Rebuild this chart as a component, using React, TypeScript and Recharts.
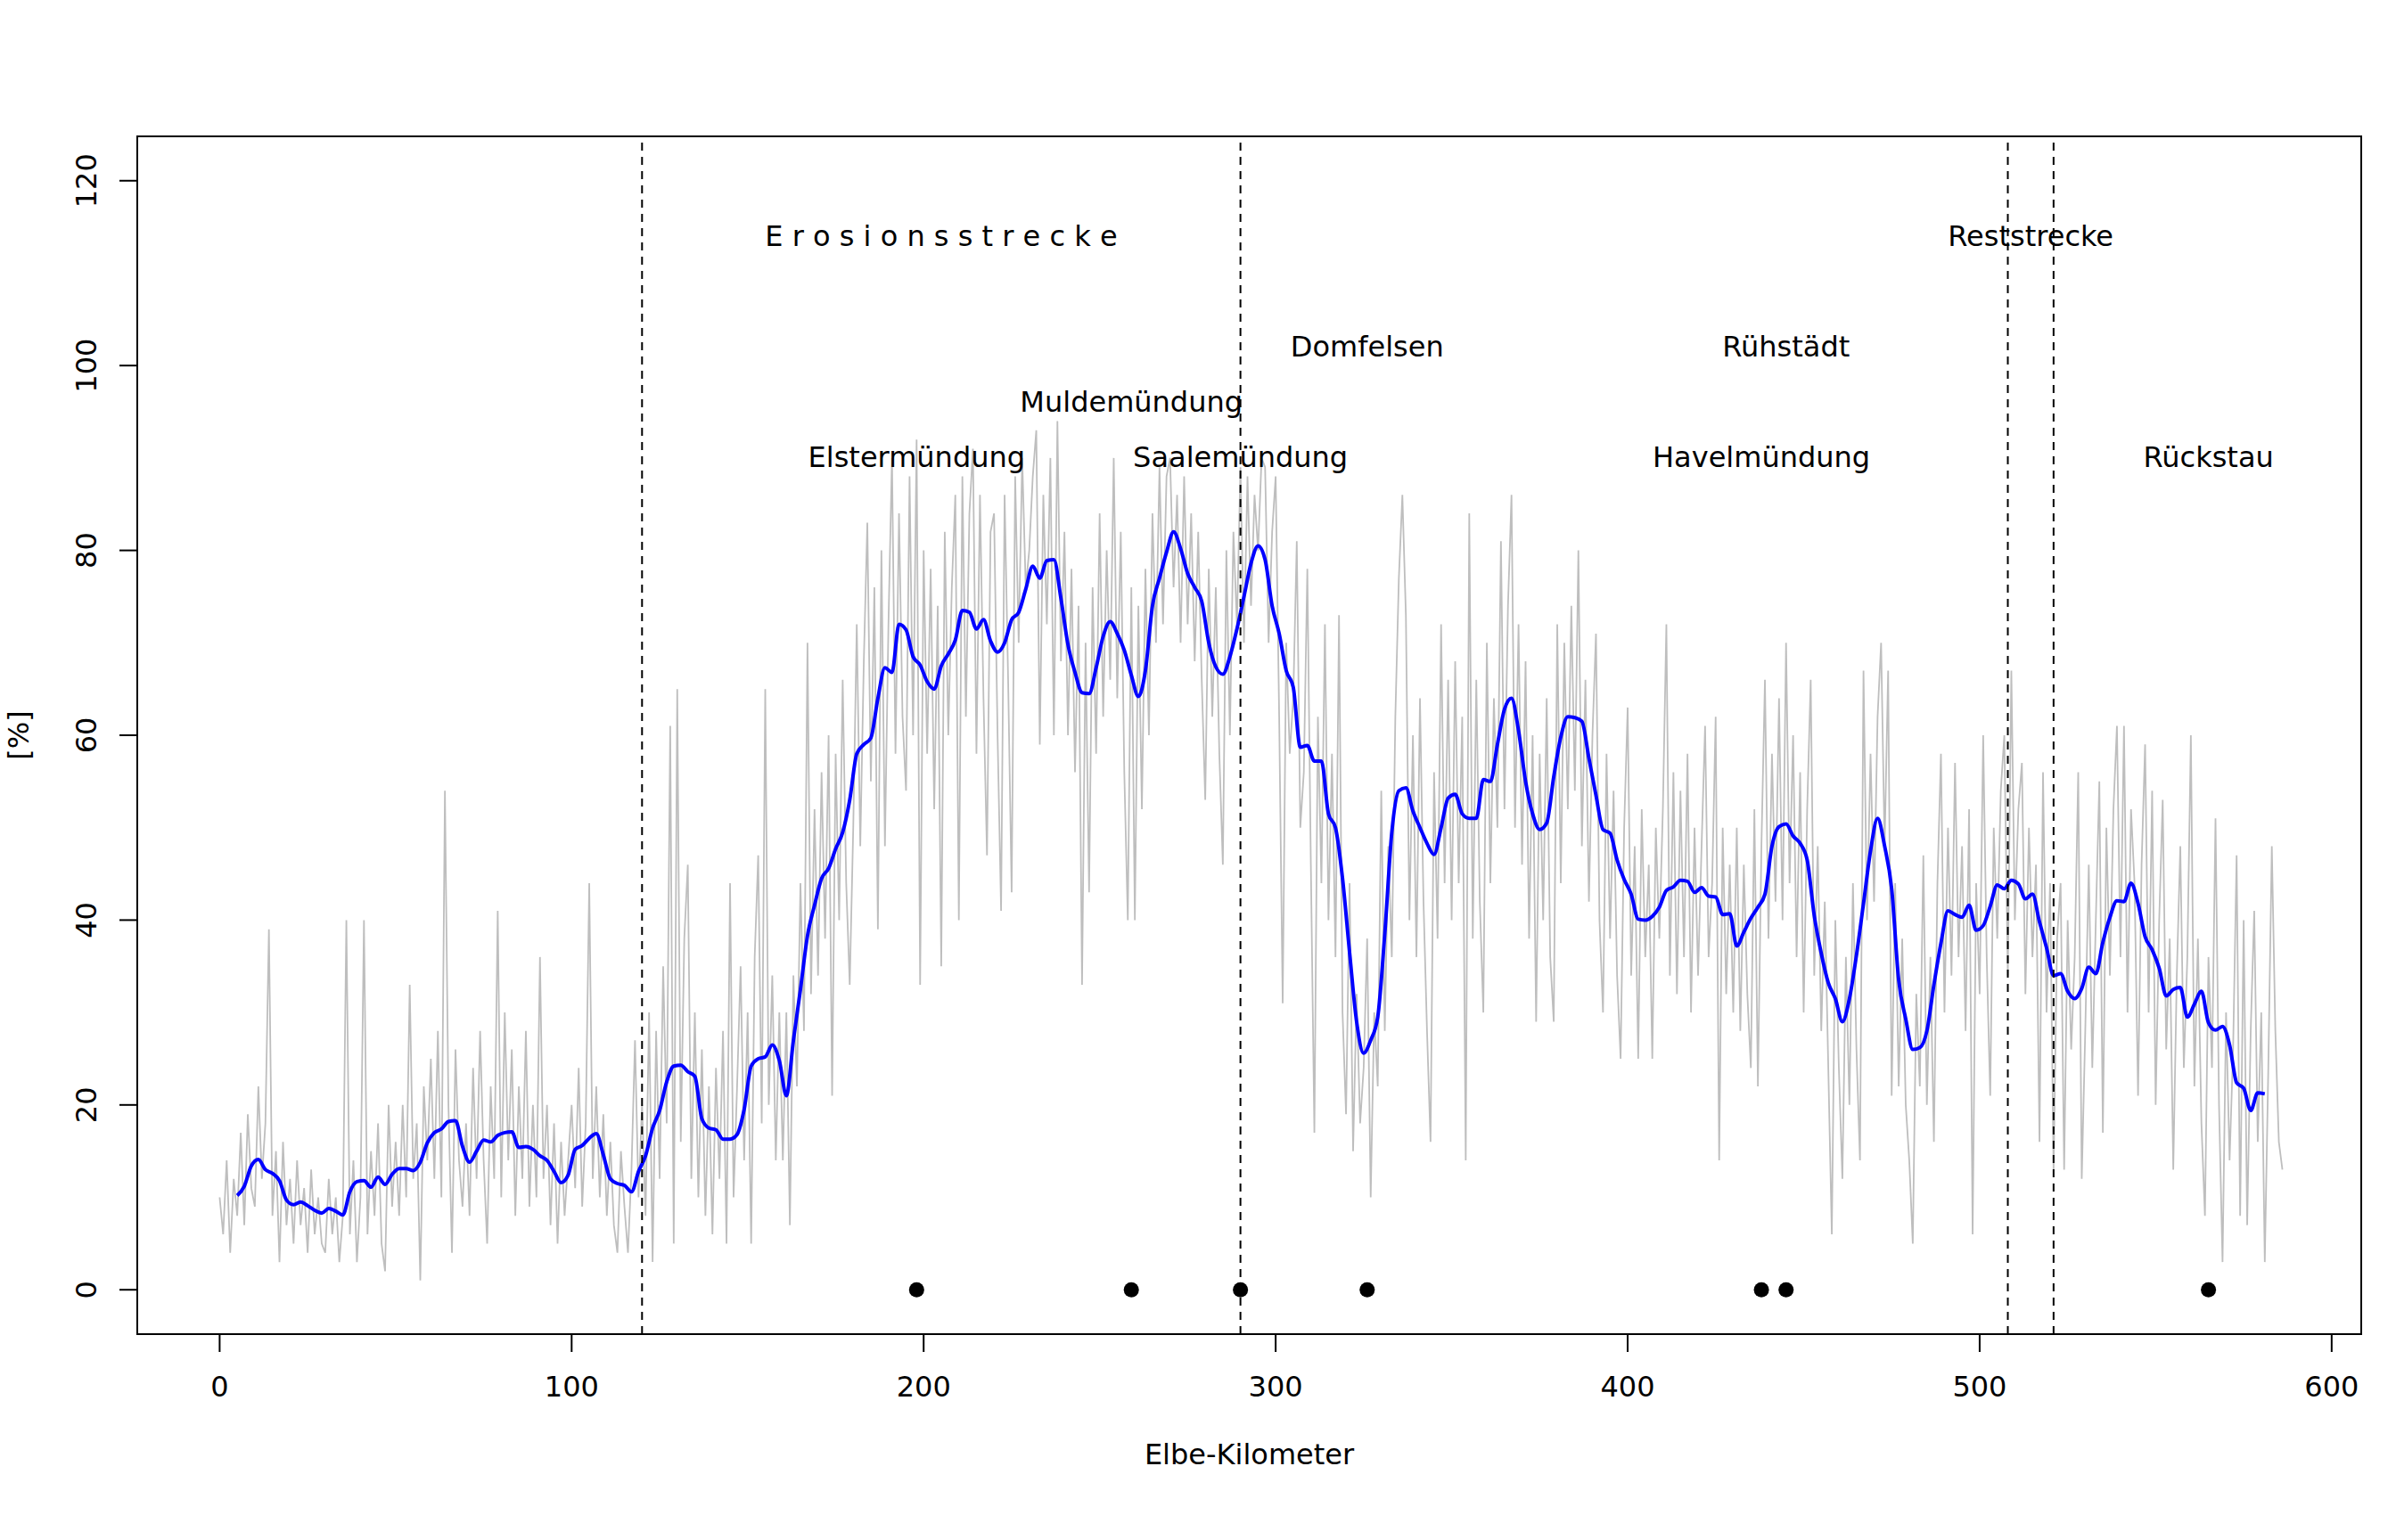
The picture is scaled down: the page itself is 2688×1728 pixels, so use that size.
import React from 'react';
import {
  ComposedChart, Line, Scatter, XAxis, YAxis, ReferenceLine, ReferenceArea
} from 'recharts';

const FONT = '"DejaVu Sans", Verdana, sans-serif';

// raw values, one per Elbe-km (km 0 .. 586)
const rawStartKm = 0;
const rawStepKm = 1;
const rawValues = [
  10, 6, 14, 4, 12, 8, 17, 7, 19, 11,
  9, 22, 12, 18, 39, 8, 15, 3, 16, 7,
  12, 5, 14, 7, 11, 4, 13, 6, 10, 5,
  4, 12, 6, 10, 3, 8, 40, 6, 14, 3,
  10, 40, 6, 15, 8, 18, 5, 2, 20, 9,
  16, 8, 20, 10, 33, 12, 18, 1, 22, 14,
  25, 12, 28, 10, 54, 20, 4, 26, 14, 9,
  18, 8, 24, 12, 28, 14, 5, 22, 12, 41,
  10, 30, 14, 26, 8, 22, 12, 28, 9, 20,
  10, 36, 12, 20, 7, 18, 5, 16, 8, 14,
  20, 11, 24, 9, 18, 44, 12, 22, 10, 19,
  8, 16, 7, 4, 15, 9, 4, 13, 27, 10,
  20, 8, 30, 3, 28, 12, 35, 18, 61, 5,
  65, 16, 38, 46, 12, 30, 10, 26, 8, 22,
  6, 24, 12, 28, 5, 44, 10, 22, 35, 14,
  30, 5, 36, 47, 18, 65, 20, 34, 14, 30,
  14, 30, 7, 34, 22, 44, 28, 70, 32, 52,
  34, 56, 38, 60, 21, 58, 40, 66, 44, 33,
  50, 72, 48, 68, 83, 55, 76, 39, 80, 48,
  72, 90, 58, 84, 62, 54, 88, 60, 92, 33,
  80, 58, 78, 52, 74, 35, 82, 60, 76, 86,
  40, 88, 62, 84, 91, 58, 86, 64, 47, 82,
  84, 60, 41, 86, 66, 43, 88, 70, 90, 76,
  80, 88, 93, 59, 86, 72, 90, 60, 94, 68,
  82, 60, 78, 56, 74, 33, 70, 43, 76, 58,
  84, 62, 80, 66, 90, 64, 82, 56, 40, 76,
  40, 74, 52, 78, 60, 84, 70, 89, 72, 88,
  90, 76, 86, 70, 88, 72, 84, 68, 82, 66,
  53, 78, 62, 76, 58, 46, 80, 60, 82, 72,
  89, 70, 88, 74, 86, 80, 90, 89, 70, 82,
  88, 62, 31, 70, 58, 64, 81, 50, 56, 78,
  46, 17, 62, 44, 72, 40, 58, 36, 73, 30,
  19, 44, 15, 32, 18, 24, 38, 10, 30, 22,
  54, 28, 48, 36, 62, 77, 86, 73, 40, 60,
  36, 64, 42, 28, 16, 56, 38, 72, 44, 66,
  40, 68, 44, 62, 14, 84, 38, 66, 42, 30,
  70, 44, 64, 50, 81, 52, 74, 86, 50, 72,
  46, 68, 38, 60, 29, 58, 40, 64, 36, 29,
  72, 44, 70, 52, 74, 54, 80, 48, 66, 42,
  60, 71, 40, 30, 58, 38, 54, 34, 25, 50,
  63, 34, 48, 25, 52, 36, 46, 25, 50, 38,
  52, 72, 34, 56, 32, 54, 36, 58, 30, 50,
  34, 48, 61, 36, 44, 62, 14, 50, 32, 46,
  30, 50, 28, 46, 32, 24, 52, 22, 48, 66,
  38, 58, 42, 64, 40, 70, 44, 60, 36, 56,
  30, 52, 66, 34, 48, 28, 42, 24, 6, 40,
  24, 12, 36, 20, 44, 26, 14, 67, 40, 58,
  42, 62, 70, 48, 67, 21, 44, 22, 38, 20,
  14, 5, 32, 22, 47, 20, 36, 16, 44, 58,
  30, 50, 34, 57, 36, 48, 28, 52, 6, 44,
  32, 60, 36, 21, 50, 38, 54, 60, 34, 67,
  40, 52, 57, 32, 50, 36, 46, 16, 56, 30,
  44, 13, 38, 44, 13, 40, 26, 36, 56, 12,
  28, 46, 24, 40, 55, 17, 50, 34, 52, 61,
  36, 61, 30, 52, 44, 21, 46, 59, 30, 54,
  20, 40, 53, 26, 38, 13, 34, 48, 24, 36,
  60, 22, 38, 18, 8, 36, 24, 51, 20, 3,
  30, 14, 26, 47, 8, 40, 7, 28, 41, 16,
  30, 3, 24, 48, 28, 16, 13
];

// running mean, every 2 km from km 5 to km 581
const meanStartKm = 5;
const meanStepKm = 2;
const meanValues = [
  10.2, 11.2, 13.4, 14.1, 13.0, 12.6, 11.8, 9.7, 9.2, 9.5,
  9.1, 8.6, 8.3, 8.8, 8.5, 8.1, 10.6, 11.7, 11.8, 11.1,
  12.2, 11.4, 12.5, 13.1, 13.1, 12.9, 13.8, 15.9, 17.0, 17.4,
  18.2, 18.3, 15.5, 13.8, 15.0, 16.2, 16.0, 16.7, 17.0, 17.1,
  15.4, 15.5, 15.2, 14.5, 14.0, 12.8, 11.6, 12.4, 15.2, 15.6,
  16.4, 16.9, 14.6, 12.0, 11.5, 11.3, 10.6, 12.8, 14.5, 17.5,
  19.4, 22.5, 24.2, 24.3, 23.6, 23.1, 18.5, 17.5, 17.3, 16.3,
  16.3, 16.8, 19.5, 24.2, 25.0, 25.2, 26.5, 24.8, 21.0, 27.0,
  32.5, 38.3, 41.6, 44.5, 45.6, 47.7, 49.5, 53.0, 58.0, 59.0,
  59.7, 64.0, 67.3, 66.8, 72.0, 71.4, 68.5, 67.6, 65.8, 65.0,
  67.5, 68.8, 70.3, 73.5, 73.3, 71.5, 72.5, 70.2, 69.0, 70.0,
  72.5, 73.3, 75.8, 78.3, 77.0, 78.9, 79.0, 74.8, 69.8, 66.8,
  64.6, 64.5, 67.3, 70.7, 72.3, 71.0, 69.2, 66.5, 64.2, 67.0,
  74.0, 77.0, 79.8, 82.0, 80.2, 77.5, 76.0, 74.5, 70.0, 67.4,
  66.6, 68.5, 71.5, 75.0, 78.6, 80.5, 79.0, 74.0, 71.0, 67.0,
  65.2, 58.7, 58.9, 57.2, 57.2, 51.5, 50.0, 44.5, 36.5, 29.0,
  25.6, 27.0, 29.5, 38.5, 49.5, 54.0, 54.3, 51.8, 50.0, 48.3,
  47.1, 50.0, 53.2, 53.6, 51.5, 51.0, 51.0, 55.2, 55.0, 59.0,
  62.8, 64.0, 60.5, 55.0, 51.5, 49.8, 50.5, 55.5, 59.8, 62.0,
  61.9, 61.5, 57.5, 53.5, 49.8, 49.4, 46.5, 44.4, 42.8, 40.1,
  40.0, 40.4, 41.4, 43.2, 43.6, 44.3, 44.2, 43.0, 43.5, 42.6,
  42.5, 40.6, 40.7, 37.2, 38.7, 40.2, 41.4, 42.8, 48.0, 50.1,
  50.4, 49.1, 48.3, 46.5, 40.5, 36.4, 33.2, 31.5, 29.0, 31.5,
  36.2, 41.8, 47.5, 51.0, 48.0, 43.4, 33.5, 29.3, 26.0, 26.2,
  28.0, 33.0, 37.5, 41.0, 40.6, 40.3, 41.6, 38.9, 39.4, 41.5,
  43.8, 43.4, 44.3, 43.9, 42.3, 42.8, 39.8, 37.0, 34.0, 34.2,
  32.3, 31.5, 32.6, 34.9, 34.2, 37.6, 40.3, 42.1, 42.0, 44.0,
  41.8, 38.2, 36.8, 34.8, 31.8, 32.5, 32.7, 29.5, 30.9, 32.3,
  28.9, 28.1, 28.5, 26.5, 22.4, 21.8, 19.4, 21.3, 21.2
];

// section boundaries (dashed) and marked sites (dots at 0)
const boundaryKm = [120, 290, 508, 521];
const siteKm = [198, 259, 290, 326, 438, 445, 565];

const labelText = [
  'E r o s i o n s s t r e c k e', 'Reststrecke', 'Domfelsen', 'Rühstädt',
  'Muldemündung', 'Elstermündung', 'Saalemündung', 'Havelmündung', 'Rückstau'
];
const labelKm = [205, 514.5, 326, 445, 259, 198, 290, 438, 565];
const labelLevel = [114, 114, 102, 102, 96, 90, 90, 90, 90];

const xTicks = [0, 100, 200, 300, 400, 500, 600];
const yTicks = [0, 20, 40, 60, 80, 100, 120];

const rawData = rawValues.map((v, i) => ({ km: rawStartKm + i * rawStepKm, v }));
const meanData = meanValues.map((v, i) => ({ km: meanStartKm + i * meanStepKm, v }));
const siteData = siteKm.map(km => ({ km, v: 0 }));
const labelData = labelText.map((text, i) => ({ km: labelKm[i], v: labelLevel[i], text }));

const XTick = (props: any) => {
  const { x, y, payload } = props;
  return (
    <text x={x} y={y + 50} textAnchor="middle" fontSize={32} fontFamily={FONT} fill="#000">
      {payload.value}
    </text>
  );
};

const YTick = (props: any) => {
  const { x, y, payload } = props;
  const bx = x - 26;
  return (
    <text x={bx} y={y} transform={`rotate(-90 ${bx} ${y})`} textAnchor="middle"
      fontSize={32} fontFamily={FONT} fill="#000">
      {payload.value}
    </text>
  );
};

const SiteDot = (props: any) => (
  <circle cx={props.cx} cy={props.cy} r={8.5} fill="#000" />
);

const SiteLabel = (props: any) => (
  <text x={props.cx} y={props.cy + 10.5} textAnchor="middle" fontSize={32}
    fontFamily={FONT} fill="#000">
    {props.payload.text}
  </text>
);

export default function App(): React.JSX.Element {
  return (
    <div style={{ position: 'absolute', left: 0, top: 0, background: '#fff' }}>
      <ComposedChart width={2688} height={1728}
        margin={{ top: 153, right: 39, bottom: 131, left: 54 }}>
        <XAxis type="number" dataKey="km" domain={[-23.4, 608.4]} ticks={xTicks}
          allowDataOverflow axisLine={false} tickSize={20} tickMargin={0} height={100}
          tickLine={{ stroke: '#000', strokeWidth: 2 }} tick={<XTick />}
          label={{
            value: 'Elbe-Kilometer',
            content: () => (
              <text x={1401.5} y={1643} textAnchor="middle" fontSize={32}
                fontFamily={FONT} fill="#000">Elbe-Kilometer</text>
            )
          }} />
        <YAxis type="number" domain={[-4.8, 124.8]} ticks={yTicks} allowDataOverflow
          axisLine={false} tickSize={20} tickMargin={0} width={100}
          tickLine={{ stroke: '#000', strokeWidth: 2 }} tick={<YTick />}
          label={{
            value: '[%]',
            content: () => (
              <text x={32} y={825} transform="rotate(-90 32 825)" textAnchor="middle"
                fontSize={32} fontFamily={FONT} fill="#000">[%]</text>
            )
          }} />
        <ReferenceArea x1={-23.4} x2={608.4} y1={-4.8} y2={124.8} fill="none"
          stroke="#000" strokeWidth={2} ifOverflow="visible" />
        <Line data={rawData} dataKey="v" type="linear" stroke="#BEBEBE" strokeWidth={1.8}
          dot={false} activeDot={false} isAnimationActive={false} />
        <Line data={meanData} dataKey="v" type="monotone" stroke="#0000FF" strokeWidth={4}
          dot={false} activeDot={false} isAnimationActive={false} />
        {boundaryKm.map(km => (
          <ReferenceLine key={km} x={km} stroke="#000" strokeWidth={2} strokeDasharray="9 7" />
        ))}
        <Scatter data={siteData} dataKey="v" shape={<SiteDot />} isAnimationActive={false} />
        <Scatter data={labelData} dataKey="v" shape={<SiteLabel />} isAnimationActive={false} />
      </ComposedChart>
    </div>
  );
}
